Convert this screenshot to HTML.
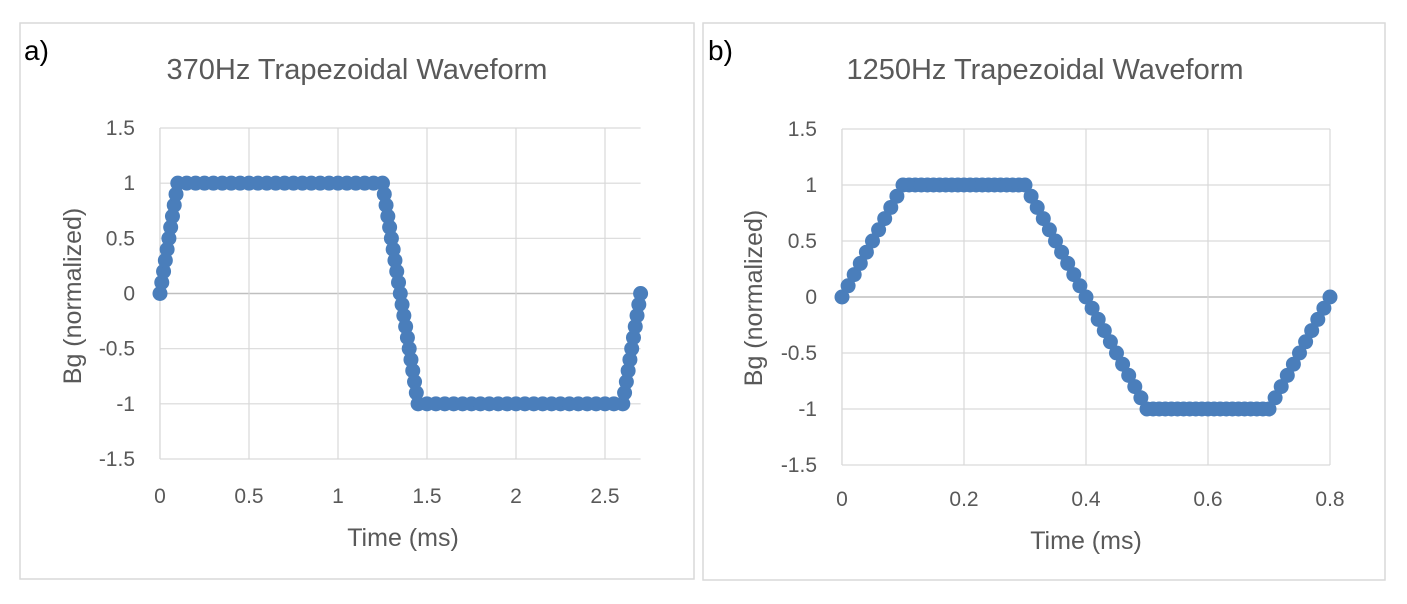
<!DOCTYPE html>
<html><head><meta charset="utf-8">
<style>
html,body{margin:0;padding:0;background:#fff;}
svg{display:block;font-family:"Liberation Sans",sans-serif;}
</style></head>
<body>
<svg id="fig" width="1407" height="604" viewBox="0 0 1407 604">
  <rect x="20" y="23" width="674" height="556" fill="#fff" stroke="#d9d9d9" stroke-width="1.5"/>
  <rect x="703" y="23" width="682" height="557" fill="#fff" stroke="#d9d9d9" stroke-width="1.5"/>
  <text x="24" y="60" font-size="28" fill="#000">a)</text>
  <text x="708" y="60" font-size="28" fill="#000">b)</text>
  <text x="357" y="79" font-size="29" fill="#595959" text-anchor="middle">370Hz Trapezoidal Waveform</text>
  <text x="1045" y="79" font-size="29" fill="#595959" text-anchor="middle">1250Hz Trapezoidal Waveform</text>
  <text transform="translate(81,296) rotate(-90)" font-size="25" fill="#595959" text-anchor="middle">Bg (normalized)</text>
  <text transform="translate(762,298) rotate(-90)" font-size="25" fill="#595959" text-anchor="middle">Bg (normalized)</text>
  <text x="403" y="546" font-size="25" fill="#595959" text-anchor="middle">Time (ms)</text>
  <text x="1086" y="549" font-size="25" fill="#595959" text-anchor="middle">Time (ms)</text>
  <g id="ga"></g>
  <g id="gb"></g>
</svg>
<script>
const yTicks = [1.5, 1, 0.5, 0, -0.5, -1, -1.5];
const yTickLabels = ["1.5", "1", "0.5", "0", "-0.5", "-1", "-1.5"];
const aXTicks = [0, 0.5, 1, 1.5, 2, 2.5];
const aXTickLabels = ["0", "0.5", "1", "1.5", "2", "2.5"];
const bXTicks = [0, 0.2, 0.4, 0.6, 0.8];
const bXTickLabels = ["0", "0.2", "0.4", "0.6", "0.8"];

const aTime = [0,0.01,0.02,0.03,0.04,0.05,0.06,0.07,0.08,0.09,0.1,
 0.15,0.2,0.25,0.3,0.35,0.4,0.45,0.5,0.55,0.6,0.65,0.7,0.75,0.8,0.85,0.9,0.95,1,1.05,1.1,1.15,1.2,1.25,
 1.26,1.27,1.28,1.29,1.3,1.31,1.32,1.33,1.34,1.35,1.36,1.37,1.38,1.39,1.4,1.41,1.42,1.43,1.44,1.45,
 1.5,1.55,1.6,1.65,1.7,1.75,1.8,1.85,1.9,1.95,2,2.05,2.1,2.15,2.2,2.25,2.3,2.35,2.4,2.45,2.5,2.55,2.6,
 2.61,2.62,2.63,2.64,2.65,2.66,2.67,2.68,2.69,2.7];
const aBg = [0,0.1,0.2,0.3,0.4,0.5,0.6,0.7,0.8,0.9,1,
 1,1,1,1,1,1,1,1,1,1,1,1,1,1,1,1,1,1,1,1,1,1,1,
 0.9,0.8,0.7,0.6,0.5,0.4,0.3,0.2,0.1,0,-0.1,-0.2,-0.3,-0.4,-0.5,-0.6,-0.7,-0.8,-0.9,-1,
 -1,-1,-1,-1,-1,-1,-1,-1,-1,-1,-1,-1,-1,-1,-1,-1,-1,-1,-1,-1,-1,-1,-1,
 -0.9,-0.8,-0.7,-0.6,-0.5,-0.4,-0.3,-0.2,-0.1,0];

const bTime = [0,0.01,0.02,0.03,0.04,0.05,0.06,0.07,0.08,0.09,0.1,
 0.11,0.12,0.13,0.14,0.15,0.16,0.17,0.18,0.19,0.2,0.21,0.22,0.23,0.24,0.25,0.26,0.27,0.28,0.29,0.3,
 0.31,0.32,0.33,0.34,0.35,0.36,0.37,0.38,0.39,0.4,0.41,0.42,0.43,0.44,0.45,0.46,0.47,0.48,0.49,0.5,
 0.51,0.52,0.53,0.54,0.55,0.56,0.57,0.58,0.59,0.6,0.61,0.62,0.63,0.64,0.65,0.66,0.67,0.68,0.69,0.7,
 0.71,0.72,0.73,0.74,0.75,0.76,0.77,0.78,0.79,0.8];
const bBg = [0,0.1,0.2,0.3,0.4,0.5,0.6,0.7,0.8,0.9,1,
 1,1,1,1,1,1,1,1,1,1,1,1,1,1,1,1,1,1,1,1,
 0.9,0.8,0.7,0.6,0.5,0.4,0.3,0.2,0.1,0,-0.1,-0.2,-0.3,-0.4,-0.5,-0.6,-0.7,-0.8,-0.9,-1,
 -1,-1,-1,-1,-1,-1,-1,-1,-1,-1,-1,-1,-1,-1,-1,-1,-1,-1,-1,-1,
 -0.9,-0.8,-0.7,-0.6,-0.5,-0.4,-0.3,-0.2,-0.1,0];

const NS = "http://www.w3.org/2000/svg";
function mk(tag, attrs, parent) {
  const e = document.createElementNS(NS, tag);
  for (const k in attrs) e.setAttribute(k, attrs[k]);
  parent.appendChild(e);
  return e;
}

function drawChart(g, x0, x1, xmax, tickMax, y0, y1, xTicks, xLabels, times, vals, ylabX, xlabY) {
  const sx = t => x0 + (t / tickMax) * (x1 - x0);
  const sy = v => y0 + (1.5 - v) / 3 * (y1 - y0);
  const right = sx(xmax);
  yTicks.forEach((v, i) => {
    const ln = mk("line", {x1: x0, x2: right, y1: sy(v), y2: sy(v), stroke: v === 0 ? "#bfbfbf" : "#d9d9d9", "stroke-width": v === 0 ? 1.5 : 1.2}, g);
    
    
    const tx = mk("text", {x: ylabX, y: sy(v) + 7, "font-size": 21, fill: "#595959", "text-anchor": "end"}, g);
    tx.textContent = yTickLabels[i];
    
    
  });
  xTicks.forEach((t, i) => {
    const ln = mk("line", {x1: sx(t), x2: sx(t), y1: sy(1.5), y2: sy(-1.5), stroke: "#d9d9d9", "stroke-width": 1.2}, g);
    
    
    const tx = mk("text", {x: sx(t), y: xlabY, "font-size": 21, fill: "#595959", "text-anchor": "middle"}, g);
    tx.textContent = xLabels[i];
    
    
  });
  const ax = mk("line", {x1: x0, x2: x0, y1: sy(1.5), y2: sy(-1.5), stroke: "#d9d9d9", "stroke-width": 1.2}, g);
  
  
  times.forEach((t, i) => {
    const c = mk("circle", {cx: sx(t), cy: sy(vals[i]), r: 7.5, fill: "#4a7ebb"}, g);
    
    
  });
}

drawChart(document.getElementById("ga"), 160, 605, 2.7, 2.5, 128, 459, aXTicks, aXTickLabels, aTime, aBg, 135, 503);
drawChart(document.getElementById("gb"), 842, 1330, 0.8, 0.8, 129, 465, bXTicks, bXTickLabels, bTime, bBg, 817, 506);
</script>
</body></html>
